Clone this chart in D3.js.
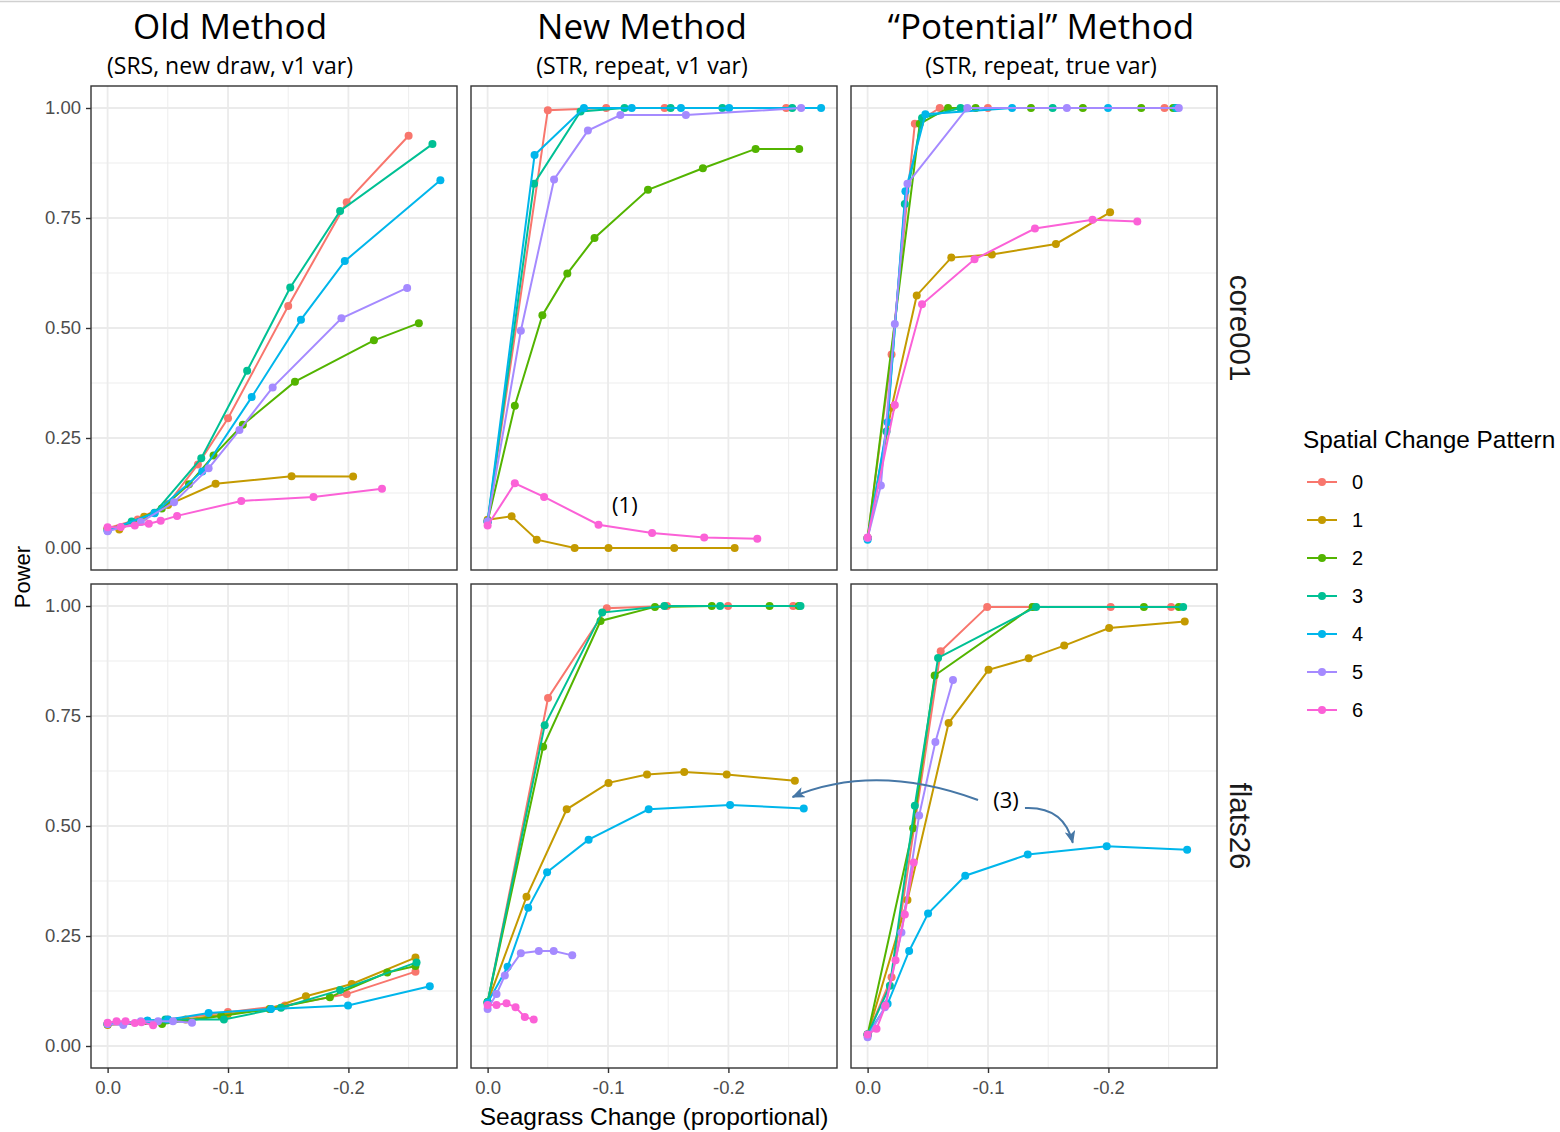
<!DOCTYPE html>
<html>
<head>
<meta charset="utf-8">
<script src="https://cdn.jsdelivr.net/npm/d3@7"></script>
<style>
  body { margin: 0; background: #fff; }
  svg { display: block; }
</style>
</head>
<body>
<svg></svg>
<script>
// facet labels
let methods = ['Old Method', 'New Method', '\u201cPotential\u201d Method']
let methodNotes = ['(SRS, new draw, v1 var)', '(STR, repeat, v1 var)', '(STR, repeat, true var)']
let sites = ['core001', 'flats26']
let patterns = ['0', '1', '2', '3', '4', '5', '6']
let colors = ['#F8766D', '#C49A00', '#53B400', '#00C094', '#00B6EB', '#A58AFF', '#FB61D7']

let xTicks = [0, -0.1, -0.2]
let xMinor = [-0.05, -0.15, -0.25]
let yTicks = [0, 0.25, 0.5, 0.75, 1]
let yMinor = [0.125, 0.375, 0.625, 0.875]

// [seagrass change, power] per pattern 0..6
let coreOld = [
    [[0, 0.045], [-0.025, 0.065], [-0.05, 0.10], [-0.075, 0.19], [-0.1, 0.295], [-0.15, 0.55], [-0.1986, 0.786], [-0.25, 0.937]],
    [[0, 0.045], [-0.0097, 0.042], [-0.0303, 0.071], [-0.0502, 0.098], [-0.0897, 0.146], [-0.1528, 0.163], [-0.2039, 0.1625]],
    [[0, 0.043], [-0.0199, 0.057], [-0.045, 0.09], [-0.0676, 0.145], [-0.088, 0.21], [-0.1123, 0.28], [-0.1556, 0.378], [-0.2212, 0.472], [-0.2585, 0.511]],
    [[0, 0.04], [-0.02, 0.06], [-0.039, 0.08], [-0.0778, 0.204], [-0.1159, 0.403], [-0.1517, 0.592], [-0.1931, 0.766], [-0.2698, 0.918]],
    [[0, 0.04], [-0.039, 0.079], [-0.0786, 0.174], [-0.1197, 0.343], [-0.1606, 0.519], [-0.197, 0.652], [-0.2764, 0.836]],
    [[0, 0.038], [-0.0276, 0.059], [-0.0552, 0.104], [-0.0839, 0.181], [-0.1095, 0.268], [-0.1371, 0.365], [-0.1942, 0.522], [-0.2488, 0.591]],
    [[0, 0.047], [-0.011, 0.048], [-0.0226, 0.051], [-0.0342, 0.055], [-0.0441, 0.062], [-0.0577, 0.073], [-0.111, 0.107], [-0.171, 0.116], [-0.2279, 0.1345]]
]
let coreNew = [
    [[0, 0.06], [-0.05, 0.995], [-0.0985, 1], [-0.147, 1], [-0.248, 1]],
    [[0, 0.064], [-0.0199, 0.072], [-0.0408, 0.019], [-0.0723, 0], [-0.1004, 0], [-0.155, 0], [-0.2052, 0]],
    [[0, 0.06], [-0.0226, 0.3235], [-0.0455, 0.529], [-0.0662, 0.6236], [-0.0888, 0.7045], [-0.1332, 0.814], [-0.1788, 0.863], [-0.2226, 0.907], [-0.2588, 0.907]],
    [[0, 0.06], [-0.0386, 0.828], [-0.0772, 0.992], [-0.1137, 1], [-0.152, 1], [-0.195, 1], [-0.253, 1]],
    [[0, 0.06], [-0.039, 0.893], [-0.08, 1], [-0.1197, 1], [-0.1606, 1], [-0.2006, 1], [-0.277, 1]],
    [[0, 0.06], [-0.0276, 0.4936], [-0.0552, 0.8375], [-0.0833, 0.9486], [-0.1103, 0.984], [-0.1647, 0.984], [-0.2604, 1]],
    [[0, 0.051], [-0.0226, 0.147], [-0.0469, 0.116], [-0.0921, 0.053], [-0.1366, 0.034], [-0.1799, 0.024], [-0.224, 0.021]]
]
let corePot = [
    [[0, 0.023], [-0.0199, 0.44], [-0.0392, 0.964], [-0.0599, 1], [-0.0999, 1], [-0.2466, 1]],
    [[0, 0.023], [-0.0199, 0.319], [-0.0408, 0.574], [-0.0695, 0.66], [-0.1032, 0.667], [-0.1564, 0.691], [-0.2014, 0.763]],
    [[0, 0.023], [-0.0433, 0.964], [-0.0668, 1], [-0.0897, 1], [-0.1357, 1], [-0.1788, 1], [-0.2273, 1], [-0.2538, 1]],
    [[0, 0.023], [-0.0157, 0.2646], [-0.0309, 0.782], [-0.0452, 0.977], [-0.0772, 1], [-0.1537, 1], [-0.2557, 1]],
    [[0, 0.019], [-0.0166, 0.2857], [-0.0314, 0.811], [-0.048, 0.986], [-0.12, 1], [-0.1997, 1], [-0.257, 1]],
    [[0, 0.023], [-0.011, 0.142], [-0.0226, 0.509], [-0.0331, 0.828], [-0.0828, 1], [-0.1655, 1], [-0.2585, 1]],
    [[0, 0.024], [-0.0226, 0.325], [-0.0452, 0.554], [-0.0888, 0.656], [-0.139, 0.726], [-0.1868, 0.746], [-0.224, 0.742]]
]
let flatsOld = [
    [[0, 0.05], [-0.05, 0.06], [-0.0999, 0.077], [-0.1473, 0.092], [-0.1986, 0.118], [-0.2557, 0.169]],
    [[0, 0.048], [-0.0648, 0.06], [-0.0999, 0.073], [-0.1344, 0.084], [-0.1647, 0.113], [-0.2028, 0.141], [-0.2557, 0.201]],
    [[0, 0.05], [-0.0452, 0.05], [-0.0943, 0.068], [-0.1352, 0.084], [-0.1846, 0.111], [-0.2323, 0.167], [-0.2557, 0.182]],
    [[0, 0.05], [-0.048, 0.06], [-0.0966, 0.06], [-0.144, 0.087], [-0.1931, 0.127], [-0.2566, 0.19]],
    [[0, 0.05], [-0.0331, 0.058], [-0.0502, 0.06], [-0.0839, 0.075], [-0.1357, 0.084], [-0.1997, 0.092], [-0.2676, 0.136]],
    [[0, 0.05], [-0.013, 0.048], [-0.0276, 0.056], [-0.0419, 0.056], [-0.0543, 0.056], [-0.0701, 0.053]],
    [[0, 0.053], [-0.0074, 0.056], [-0.0149, 0.056], [-0.0226, 0.052], [-0.0281, 0.054], [-0.0378, 0.047]]
]
let flatsNew = [
    [[0, 0.098], [-0.0502, 0.791], [-0.099, 0.995], [-0.149, 1], [-0.1997, 1], [-0.2538, 1]],
    [[0, 0.0995], [-0.0323, 0.339], [-0.0657, 0.538], [-0.1004, 0.598], [-0.1324, 0.617], [-0.1633, 0.623], [-0.1986, 0.617], [-0.2552, 0.603]],
    [[0, 0.1], [-0.0461, 0.68], [-0.0938, 0.966], [-0.139, 0.998], [-0.1862, 1], [-0.2342, 1], [-0.2585, 1]],
    [[0, 0.1], [-0.0474, 0.729], [-0.0952, 0.985], [-0.1468, 1], [-0.1931, 1], [-0.2599, 1]],
    [[0, 0.098], [-0.0166, 0.18], [-0.0337, 0.314], [-0.0494, 0.395], [-0.0839, 0.469], [-0.1338, 0.538], [-0.2014, 0.548], [-0.2626, 0.54]],
    [[0, 0.084], [-0.0074, 0.118], [-0.0143, 0.16], [-0.0276, 0.211], [-0.0425, 0.216], [-0.0549, 0.216], [-0.0703, 0.206]],
    [[0, 0.093], [-0.0074, 0.093], [-0.0157, 0.097], [-0.0232, 0.088], [-0.0309, 0.066], [-0.0383, 0.06]]
]
let flatsPot = [
    [[0, 0.026], [-0.0199, 0.156], [-0.0607, 0.897], [-0.0993, 0.998], [-0.1371, 0.998], [-0.2019, 0.998], [-0.2521, 0.998]],
    [[0, 0.026], [-0.0331, 0.332], [-0.0673, 0.734], [-0.1004, 0.855], [-0.1338, 0.881], [-0.1633, 0.91], [-0.2006, 0.95], [-0.2634, 0.965]],
    [[0, 0.026], [-0.0378, 0.495], [-0.0557, 0.842], [-0.1371, 0.998], [-0.2295, 0.998], [-0.2585, 0.998]],
    [[0, 0.026], [-0.0185, 0.137], [-0.0392, 0.546], [-0.0585, 0.882], [-0.1399, 0.998], [-0.2621, 0.998]],
    [[0, 0.026], [-0.0166, 0.096], [-0.0345, 0.216], [-0.0502, 0.301], [-0.0811, 0.387], [-0.133, 0.435], [-0.1986, 0.454], [-0.2654, 0.446]],
    [[0, 0.02], [-0.0143, 0.088], [-0.0281, 0.258], [-0.0428, 0.524], [-0.0563, 0.691], [-0.0709, 0.832]],
    [[0, 0.026], [-0.0074, 0.039], [-0.0149, 0.092], [-0.0232, 0.195], [-0.0309, 0.299], [-0.0383, 0.417]]
]

let panels = [[coreOld, coreNew, corePot], [flatsOld, flatsNew, flatsPot]]

let width = 1560
let height = 1132
let panelLeft = [91, 471, 851]
let panelTop = [86, 584]
let panelW = 366
let panelH = 484

let sansFont = 'Liberation Sans, Arial, sans-serif'
let titleFont = 'Open Sans, Noto Sans, sans-serif'

let svg = d3.select('svg').attr('width', width).attr('height', height)

let xScale = d3.scaleLinear().domain([0.0138, -0.2902]).range([0, panelW])
let yScale = d3.scaleLinear().domain([-0.05, 1.05]).range([panelH, 0])

let line = d3.line().x(d => xScale(d[0])).y(d => yScale(d[1]))

// thin rule along the top
svg.append('line').attr('x1', 0).attr('x2', width).attr('y1', 1.5).attr('y2', 1.5)
    .attr('stroke', '#d0d0d0').attr('stroke-width', 1.5)

let drawPanel = (row, col) => {
    let g = svg.append('g').attr('transform', 'translate(' + panelLeft[col] + ',' + panelTop[row] + ')')

    g.append('rect').attr('width', panelW).attr('height', panelH).attr('fill', '#fff')

    g.selectAll('.ymin').data(yMinor).enter().append('line')
        .attr('x1', 0).attr('x2', panelW)
        .attr('y1', d => yScale(d)).attr('y2', d => yScale(d))
        .attr('stroke', '#ebebeb').attr('stroke-width', 0.9)
    g.selectAll('.xmin').data(xMinor).enter().append('line')
        .attr('y1', 0).attr('y2', panelH)
        .attr('x1', d => xScale(d)).attr('x2', d => xScale(d))
        .attr('stroke', '#ebebeb').attr('stroke-width', 0.9)
    g.selectAll('.ymaj').data(yTicks).enter().append('line')
        .attr('x1', 0).attr('x2', panelW)
        .attr('y1', d => yScale(d)).attr('y2', d => yScale(d))
        .attr('stroke', '#ebebeb').attr('stroke-width', 1.8)
    g.selectAll('.xmaj').data(xTicks).enter().append('line')
        .attr('y1', 0).attr('y2', panelH)
        .attr('x1', d => xScale(d)).attr('x2', d => xScale(d))
        .attr('stroke', '#ebebeb').attr('stroke-width', 1.8)

    let series = panels[row][col]
    series.forEach((s, i) => {
        g.append('path').datum(s)
            .attr('d', line)
            .attr('fill', 'none')
            .attr('stroke', colors[i])
            .attr('stroke-width', 2)
        g.selectAll('.dot' + i).data(s).enter().append('circle')
            .attr('cx', d => xScale(d[0]))
            .attr('cy', d => yScale(d[1]))
            .attr('r', 4)
            .attr('fill', colors[i])
    })

    g.append('rect').attr('width', panelW).attr('height', panelH)
        .attr('fill', 'none').attr('stroke', '#333').attr('stroke-width', 1.4)

    if (col === 0) {
        let yAxis = d3.axisLeft(yScale).tickValues(yTicks).tickFormat(d3.format('.2f')).tickSize(5).tickPadding(5)
        let ax = g.append('g').call(yAxis)
        ax.select('.domain').remove()
        ax.selectAll('line').attr('stroke', '#333').attr('stroke-width', 1.4)
        ax.selectAll('text').attr('fill', '#4d4d4d').style('font-family', sansFont).style('font-size', '18.5px')
    }
    if (row === 1) {
        let xAxis = d3.axisBottom(xScale).tickValues(xTicks).tickSize(5).tickPadding(8)
        let ax = g.append('g').attr('transform', 'translate(0,' + panelH + ')').call(xAxis)
        ax.select('.domain').remove()
        ax.selectAll('line').attr('stroke', '#333').attr('stroke-width', 1.4)
        ax.selectAll('text').attr('fill', '#4d4d4d').style('font-family', sansFont).style('font-size', '18.5px')
            .text(d => d === 0 ? '0.0' : d3.format('.1f')(d).replace('\u2212', '-'))
    }
    if (col === 2) {
        g.append('text')
            .attr('transform', 'translate(' + (panelW + 13) + ',' + (panelH / 2) + ') rotate(90)')
            .attr('text-anchor', 'middle')
            .style('font-family', sansFont)
            .style('font-size', '29.5px')
            .attr('fill', '#1a1a1a')
            .text(sites[row])
    }
}

for (let r = 0; r < 2; r++) {
    for (let c = 0; c < 3; c++) drawPanel(r, c)
}

// column headers
let headerX = [230, 642, 1041]
methods.forEach((m, i) => {
    svg.append('text').attr('x', headerX[i]).attr('y', 39)
        .attr('text-anchor', 'middle')
        .style('font-family', titleFont)
        .style('font-size', '35px')
        .attr('fill', '#000')
        .text(m)
    svg.append('text').attr('x', headerX[i]).attr('y', 74)
        .attr('text-anchor', 'middle')
        .style('font-family', titleFont)
        .style('font-size', '23px')
        .attr('fill', '#000')
        .text(methodNotes[i])
})

// axis titles
svg.append('text').attr('x', (panelLeft[0] + panelLeft[2] + panelW) / 2).attr('y', 1125)
    .attr('text-anchor', 'middle')
    .style('font-family', sansFont)
    .style('font-size', '24.5px')
    .attr('fill', '#000')
    .text('Seagrass Change (proportional)')
svg.append('text')
    .attr('transform', 'translate(30,' + ((panelTop[0] + panelTop[1] + panelH) / 2) + ') rotate(-90)')
    .attr('text-anchor', 'middle')
    .style('font-family', sansFont)
    .style('font-size', '22px')
    .attr('fill', '#000')
    .text('Power')

// legend
let legend = svg.append('g').attr('transform', 'translate(1303,0)')
legend.append('text').attr('x', 0).attr('y', 448)
    .style('font-family', sansFont)
    .style('font-size', '24.4px')
    .attr('fill', '#000')
    .text('Spatial Change Pattern')
patterns.forEach((p, i) => {
    let y = 482 + i * 38
    legend.append('line').attr('x1', 4).attr('x2', 34).attr('y1', y).attr('y2', y)
        .attr('stroke', colors[i]).attr('stroke-width', 2)
    legend.append('circle').attr('cx', 19).attr('cy', y).attr('r', 4).attr('fill', colors[i])
    legend.append('text').attr('x', 49).attr('y', y + 7)
        .style('font-family', sansFont)
        .style('font-size', '20px')
        .attr('fill', '#000')
        .text(p)
})

// annotations, positioned in data units of their panel
let px = (col, v) => panelLeft[col] + xScale(v)
let py = (row, v) => panelTop[row] + yScale(v)

let note = (txt, col, row, xv, yv) => {
    svg.append('text').attr('x', px(col, xv)).attr('y', py(row, yv) + 8)
        .attr('text-anchor', 'middle')
        .style('font-family', titleFont)
        .style('font-size', '22px')
        .attr('fill', '#000')
        .text(txt)
}
note('(1)', 1, 0, -0.114, 0.098)
note('(3)', 2, 1, -0.1149, 0.559)

let defs = svg.append('defs')
defs.append('marker').attr('id', 'head')
    .attr('viewBox', '0 0 12 10').attr('refX', 11).attr('refY', 5)
    .attr('markerWidth', 13).attr('markerHeight', 11)
    .attr('markerUnits', 'userSpaceOnUse')
    .attr('orient', 'auto')
    .append('path').attr('d', 'M0,0 L12,5 L0,10 L3,5 Z').attr('fill', '#4677a6')

let arrow = (p0, p1, p2) => {
    let path = d3.path()
    path.moveTo(p0[0], p0[1])
    path.quadraticCurveTo(p1[0], p1[1], p2[0], p2[1])
    svg.append('path').attr('d', path.toString())
        .attr('fill', 'none').attr('stroke', '#4677a6').attr('stroke-width', 2)
        .attr('marker-end', 'url(#head)')
}
arrow([px(2, -0.0917), py(1, 0.559)], [px(2, -0.0064), py(1, 0.645)], [px(1, -0.2533), py(1, 0.566)])
arrow([px(2, -0.1307), py(1, 0.541)], [px(2, -0.163), py(1, 0.545)], [px(2, -0.1704), py(1, 0.462)])
</script>
</body>
</html>
